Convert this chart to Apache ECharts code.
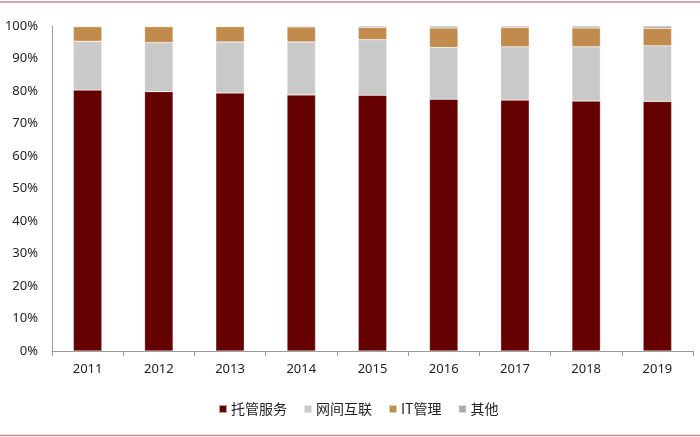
<!DOCTYPE html>
<html><head><meta charset="utf-8">
<script src="https://cdn.jsdelivr.net/npm/echarts@6/dist/echarts.min.js"></script>
<style>html,body{margin:0;padding:0;background:#fff}#c{width:700px;height:437px}</style>
</head><body><div id="c"></div>
<script>
const years = ['2011','2012','2013','2014','2015','2016','2017','2018','2019'];
const hosting = [80.3, 79.8, 79.4, 78.8, 78.7, 77.5, 77.2, 76.9, 76.8];
const interconnect = [15.0, 15.1, 15.7, 16.3, 17.1, 15.9, 16.4, 16.7, 17.1];
const itMgmt = [4.5, 4.9, 4.7, 4.6, 3.8, 6.0, 6.0, 5.8, 5.4];
const others = [0.2, 0.2, 0.2, 0.3, 0.4, 0.6, 0.4, 0.6, 0.7];
const seriesNames = ['托管服务','网间互联','IT管理','其他'];
const yTicks = [0,10,20,30,40,50,60,70,80,90,100];

const colors = ['#650000','#c9c9c9','#c08b4c','#a9a9a9'];
const chart = echarts.init(document.getElementById('c'));
const mk = (name, data, i) => ({
  name, type:'bar', stack:'total', data, barWidth:'40%',
  itemStyle:{color:colors[i], borderColor:'rgba(255,255,255,0.6)', borderWidth:0.5}
});
chart.setOption({
  animation:false,
  textStyle:{fontFamily:'"Noto Sans", "Noto Sans CJK SC", sans-serif'},
  grid:{left:52, right:7, top:26, bottom:86, containLabel:false},
  legend:{
    top:397, left:213, itemWidth:8, itemHeight:8, itemGap:16,
    icon:'rect',
    textStyle:{fontSize:14, color:'#222', fontFamily:'"Noto Sans CJK SC", serif', padding:[0,0,0,-1]},
    data:seriesNames
  },
  xAxis:{
    type:'category', data:years, boundaryGap:true,
    axisLine:{lineStyle:{color:'#9a9a9a', width:1}},
    axisTick:{show:true, length:5, lineStyle:{color:'#9a9a9a'}},
    axisLabel:{fontSize:13, color:'#222', margin:12}
  },
  yAxis:{
    type:'value', min:yTicks[0], max:yTicks[yTicks.length-1], interval:10,
    axisLine:{show:true, lineStyle:{color:'#9a9a9a'}},
    axisTick:{show:false},
    splitLine:{show:false},
    axisLabel:{fontSize:13, color:'#222', margin:14, formatter:v=>v+'%'}
  },
  graphic:[
    {type:'line', shape:{x1:0,y1:2,x2:700,y2:2}, style:{stroke:'#c08a8a', lineWidth:1.5}},
    {type:'line', shape:{x1:0,y1:435.5,x2:700,y2:435.5}, style:{stroke:'#c08a8a', lineWidth:1.5}}
  ],
  series:[mk(seriesNames[0],hosting,0), mk(seriesNames[1],interconnect,1), mk(seriesNames[2],itMgmt,2), mk(seriesNames[3],others,3)]
});
</script></body></html>
